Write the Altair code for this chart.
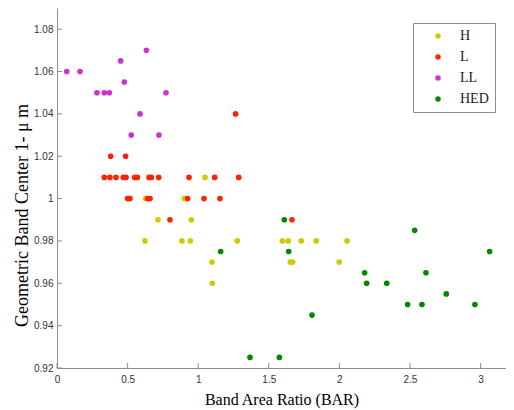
import altair as alt
import pandas as pd

groups = ["H", "L", "LL", "HED"]
colors = ["#cccc00", "#ff2200", "#cc33cc", "#008800"]

h_x = [0.623, 0.628, 0.715, 0.885, 0.902, 0.944, 0.951, 1.048, 1.098, 1.10,
       1.277, 1.596, 1.638, 1.652, 1.669, 1.73, 1.836, 1.999, 2.054]
h_y = [0.98, 1.00, 0.99, 0.98, 1.00, 0.98, 0.99, 1.01, 0.97, 0.96,
       0.98, 0.98, 0.98, 0.97, 0.97, 0.98, 0.98, 0.97, 0.98]

l_x = [1.265, 0.38, 0.486,
       0.335, 0.375, 0.418, 0.470, 0.489, 0.550, 0.569, 0.652, 0.668, 0.720, 0.935, 1.117, 1.287,
       0.50, 0.517, 0.642, 0.659, 0.925, 1.041, 1.154,
       0.80, 1.664]
l_y = [1.04, 1.02, 1.02,
       1.01, 1.01, 1.01, 1.01, 1.01, 1.01, 1.01, 1.01, 1.01, 1.01, 1.01, 1.01, 1.01,
       1.00, 1.00, 1.00, 1.00, 1.00, 1.00, 1.00,
       0.99, 0.99]

ll_x = [0.069, 0.163, 0.283, 0.335, 0.371, 0.451, 0.477, 0.633, 0.772, 0.588, 0.526, 0.722]
ll_y = [1.06, 1.06, 1.05, 1.05, 1.05, 1.065, 1.055, 1.07, 1.05, 1.04, 1.03, 1.03]

hed_x = [1.61, 1.159, 1.641, 1.367, 1.575, 1.806, 2.533, 3.064, 2.179, 2.613,
         2.193, 2.335, 2.757, 2.483, 2.585, 2.96]
hed_y = [0.99, 0.975, 0.975, 0.925, 0.925, 0.945, 0.985, 0.975, 0.965, 0.965,
         0.96, 0.96, 0.955, 0.95, 0.95, 0.95]

x_ticks = [0, 0.5, 1, 1.5, 2, 2.5, 3]
y_ticks = [0.92, 0.94, 0.96, 0.98, 1.0, 1.02, 1.04, 1.06, 1.08]

rows = []
for g, xs, ys in [("H", h_x, h_y), ("L", l_x, l_y), ("LL", ll_x, ll_y), ("HED", hed_x, hed_y)]:
    rows += [{"BAR": a, "BC": b, "group": g} for a, b in zip(xs, ys)]
df = pd.DataFrame(rows)

W, H = 449, 360
xscale = alt.Scale(domain=[0, 3.18], nice=False, zero=False)
yscale = alt.Scale(domain=[0.92, 1.09], nice=False, zero=False)

axis_style = dict(grid=False, ticks=False, domainColor="#8c8c8c",
                  labelFont="Liberation Sans", labelFontSize=10, labelColor="#333333",
                  titleFont="Liberation Serif", titleColor="#000000", titleFontWeight="normal",
                  format="~g", labelFlush=False, labelOverlap=False)

x_axis = alt.Axis(values=x_ticks, title="Band Area Ratio (BAR)", titleFontSize=16,
                  labelPadding=6, titleY=36, titleBaseline="alphabetic", **axis_style)
y_axis = alt.Axis(values=y_ticks, title="Geometric Band Center 1- μ m", titleFontSize=18,
                  labelPadding=4, titleX=-35, titleY=207, titleBaseline="middle",
                  titleAlign="center", **axis_style)

points = alt.Chart(df).mark_circle(size=32, opacity=1).encode(
    x=alt.X("BAR:Q", scale=xscale, axis=x_axis),
    y=alt.Y("BC:Q", scale=yscale, axis=y_axis),
    color=alt.Color("group:N", scale=alt.Scale(domain=groups, range=colors),
                    legend=alt.Legend(title=None, orient="none", legendX=356, legendY=15,
                                      padding=6, strokeColor="#8c8c8c", fillColor="white",
                                      labelFont="Liberation Serif", labelFontSize=14,
                                      labelColor="#222222", symbolType="circle", symbolSize=30,
                                      symbolOffset=12, labelOffset=15, rowPadding=7,
                                      symbolStrokeWidth=0)),
)

xt = pd.DataFrame({"BAR": x_ticks})
yt = pd.DataFrame({"BC": y_ticks})

xtick = alt.Chart(xt).mark_rule(color="#8c8c8c", strokeWidth=1).encode(
    x=alt.X("BAR:Q", scale=xscale, axis=x_axis), y=alt.value(H), y2=alt.value(H - 5))
ytick = alt.Chart(yt).mark_rule(color="#8c8c8c", strokeWidth=1).encode(
    y=alt.Y("BC:Q", scale=yscale, axis=y_axis), x=alt.value(0), x2=alt.value(5))

chart = alt.layer(xtick, ytick, points).properties(
    width=W, height=H,
    autosize=alt.AutoSizeParams(type="none"),
    padding={"left": 49, "top": 0, "right": 0, "bottom": 42},
    background="white",
).configure_view(stroke=None)

chart.save("out.html", embed_options={"renderer": "svg", "actions": False})
